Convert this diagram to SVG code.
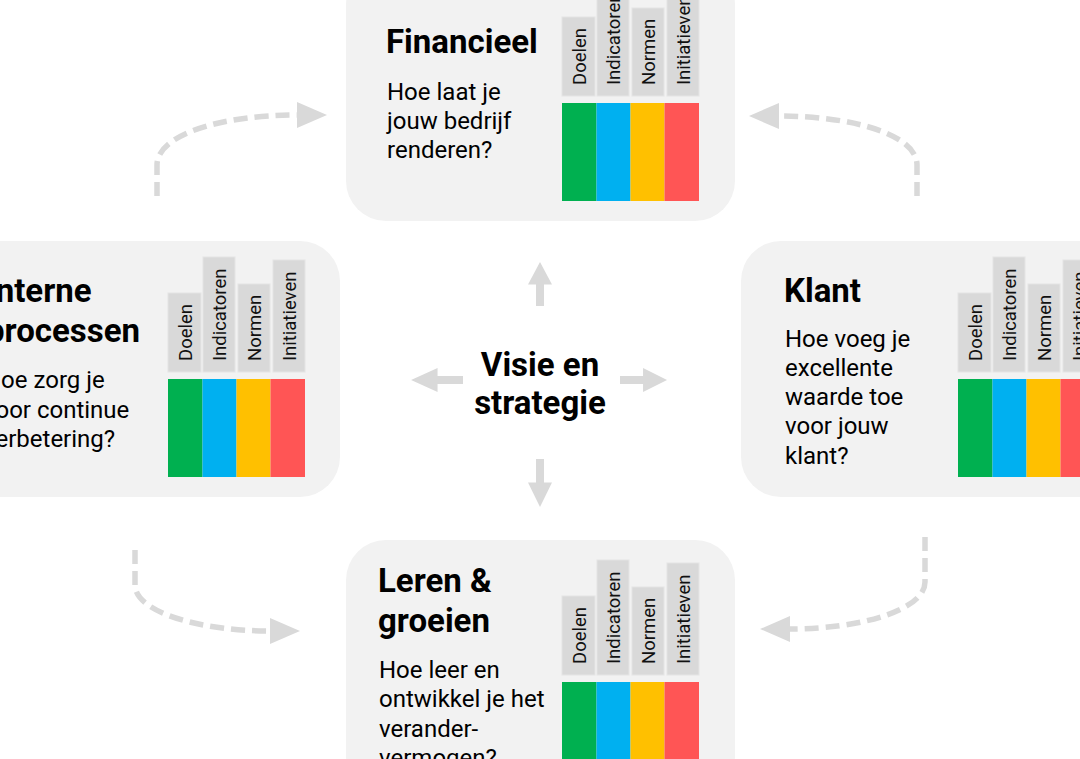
<svg xmlns="http://www.w3.org/2000/svg" xmlns:xlink="http://www.w3.org/1999/xlink" width="1080" height="759" viewBox="0 0 1080 759">
<style>
.box{fill:#f2f2f2}
.tab{fill:#d9d9d9;stroke:#e4e4e4;stroke-width:1}
.tl{font-family:Roboto,"Liberation Sans",sans-serif;font-size:18.5px;fill:#111}
.title{font-family:Roboto,"Liberation Sans",sans-serif;font-size:33px;font-weight:700;fill:#000}
.body{font-family:Roboto,"Liberation Sans",sans-serif;font-size:24px;fill:#000}
.dash{fill:none;stroke:#d9d9d9;stroke-width:5.5;stroke-dasharray:14 7}
.blk{fill:#d9d9d9}
</style>
<defs>
<marker id="head" markerUnits="userSpaceOnUse" markerWidth="30" markerHeight="26" viewBox="0 0 30 26" refX="0" refY="13" orient="auto">
<path d="M0,0 L30,13 L0,26 Z" fill="#d9d9d9"/>
</marker>
<g id="matrix">
<rect class="tab" x="0" y="-86" width="33" height="79"/>
<rect class="tab" x="35" y="-122" width="32" height="115"/>
<rect class="tab" x="70" y="-95" width="32" height="88"/>
<rect class="tab" x="105" y="-119" width="32" height="112"/>
<text class="tl" transform="translate(23.5,-18) rotate(-90)">Doelen</text>
<text class="tl" transform="translate(58,-18) rotate(-90)">Indicatoren</text>
<text class="tl" transform="translate(93,-18) rotate(-90)">Normen</text>
<text class="tl" transform="translate(128,-18) rotate(-90)">Initiatieven</text>
<rect x="0" y="0" width="34.5" height="98" fill="#00b050"/>
<rect x="34.5" y="0" width="34" height="98" fill="#00b0f0"/>
<rect x="68.5" y="0" width="34" height="98" fill="#ffc000"/>
<rect x="102.5" y="0" width="34.5" height="98" fill="#ff5555"/>
</g>
<path id="blk" d="M0,-4 H24 V-12 L49,0 L24,12 V4 H0 Z"/>
</defs>

<g id="connectors">
<path class="dash" d="M157,196 V165 C157,135 220,115 297,115" marker-end="url(#head)"/>
<path class="dash" d="M917,196 V165 C917,135 854,116 779,116" marker-end="url(#head)"/>
<path class="dash" d="M135,550 V585 C135,612 200,631 270,631" marker-end="url(#head)"/>
<path class="dash" d="M925,537 V582 C925,610 860,629 790,629" marker-end="url(#head)"/>
<use href="#blk" class="blk" transform="translate(540,306) rotate(-90) scale(0.9,1)"/>
<use href="#blk" class="blk" transform="translate(540,459) rotate(90) scale(0.98,1)"/>
<use href="#blk" class="blk" transform="translate(463,380) rotate(180) scale(1.06,1)"/>
<use href="#blk" class="blk" transform="translate(620,380) scale(0.96,1)"/>
</g>

<g id="center">
<text class="title" x="540" y="376" text-anchor="middle">Visie en</text>
<text class="title" x="540" y="414" text-anchor="middle">strategie</text>
</g>

<g id="financieel">
<rect class="box" x="346" y="-35" width="389" height="256" rx="40"/>
<text class="title" x="386" y="53">Financieel</text>
<text class="body"><tspan x="387" y="100">Hoe laat je</tspan><tspan x="387" y="129">jouw bedrijf</tspan><tspan x="387" y="158">renderen?</tspan></text>
<use href="#matrix" transform="translate(562,103)"/>
</g>

<g id="interne-processen">
<rect class="box" x="-50" y="241" width="390" height="256" rx="40"/>
<text class="title" x="-14" y="302">Interne</text>
<text class="title" x="-14" y="342">processen</text>
<text class="body"><tspan x="-16" y="388">Hoe zorg je</tspan><tspan x="-16" y="418">voor continue</tspan><tspan x="-16" y="447">verbetering?</tspan></text>
<use href="#matrix" transform="translate(168,379)"/>
</g>

<g id="klant">
<rect class="box" x="741" y="241" width="390" height="256" rx="40"/>
<text class="title" x="784" y="302">Klant</text>
<text class="body"><tspan x="785" y="347">Hoe voeg je</tspan><tspan x="785" y="376">excellente</tspan><tspan x="785" y="405">waarde toe</tspan><tspan x="785" y="434">voor jouw</tspan><tspan x="785" y="464">klant?</tspan></text>
<use href="#matrix" transform="translate(958,379)"/>
</g>

<g id="leren-groeien">
<rect class="box" x="346" y="540" width="389" height="256" rx="40"/>
<text class="title" x="378" y="592">Leren &amp;</text>
<text class="title" x="378" y="632">groeien</text>
<text class="body"><tspan x="379" y="678">Hoe leer en</tspan><tspan x="379" y="707">ontwikkel je het</tspan><tspan x="379" y="737">verander-</tspan><tspan x="379" y="766">vermogen?</tspan></text>
<use href="#matrix" transform="translate(562,682)"/>
</g>
</svg>
